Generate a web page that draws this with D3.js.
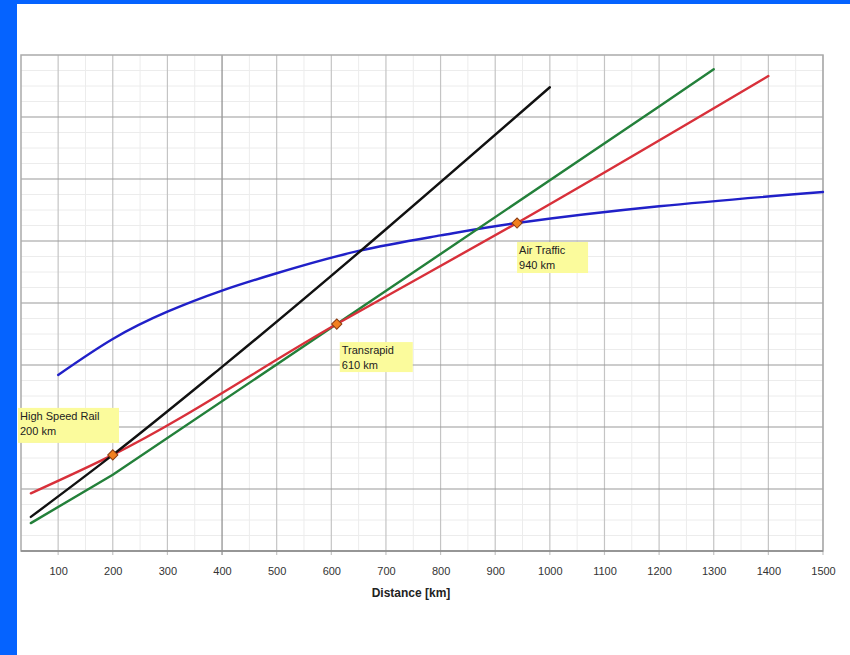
<!DOCTYPE html>
<html>
<head>
<meta charset="utf-8">
<script src="https://cdn.jsdelivr.net/npm/d3@7"></script>
<style>
  html, body { margin: 0; padding: 0; background: #ffffff; }
  svg { display: block; }
</style>
</head>
<body>
<script>
// ---- Data (distance in km, travel time in grid units) ----
const xTicks = [100, 200, 300, 400, 500, 600, 700, 800, 900, 1000, 1100, 1200, 1300, 1400, 1500];
const xTitle = "Distance [km]";

const carDist  = [50, 200, 400, 1000];
const carTime  = [0.55, 1.55, 2.97, 7.48];

const hsrDist  = [50, 200, 610, 940, 1400];
const hsrTime  = [0.93, 1.55, 3.66, 5.29, 7.66];

const transDist = [50, 200, 610, 1200, 1300];
const transTime = [0.45, 1.23, 3.66, 7.17, 7.77];

const airDist  = [100, 200, 300, 400, 500, 650, 800, 940, 1200, 1500];
const airTime  = [2.84, 3.42, 3.86, 4.2, 4.48, 4.84, 5.09, 5.29, 5.56, 5.79];

const markDist  = [200, 610, 940];
const markTime  = [1.55, 3.66, 5.29];
const markLabel1 = ["High Speed Rail", "Transrapid", "Air Traffic"];
const markLabel2 = ["200 km", "610 km", "940 km"];

// ---- Layout ----
const W = 850, H = 655;
const L = 21, R = 823, T = 55, B = 551;

const svg = d3.select("body").append("svg").attr("width", W).attr("height", H);

// blue frame
svg.append("rect").attr("x", 0).attr("y", 0).attr("width", 17).attr("height", H).attr("fill", "#0563ff");
svg.append("rect").attr("x", 0).attr("y", 0).attr("width", W).attr("height", 4).attr("fill", "#0563ff");

const x = d3.scaleLinear().domain([32, 1500]).range([L, R]);
const y = d3.scaleLinear().domain([0, 8]).range([B, T]);

const g = svg.append("g");

// minor vertical grid
g.selectAll("line.vminor").data(d3.range(150, 1500, 100)).enter().append("line")
  .attr("x1", d => x(d)).attr("x2", d => x(d)).attr("y1", T).attr("y2", B)
  .attr("stroke", "#ececec").attr("stroke-width", 1);
// minor horizontal grid
g.selectAll("line.hminor").data(d3.range(0, 8, 0.25).filter(v => v % 1 !== 0)).enter().append("line")
  .attr("x1", L).attr("x2", R).attr("y1", d => y(d)).attr("y2", d => y(d))
  .attr("stroke", "#ececec").attr("stroke-width", 1);
// major vertical grid
g.selectAll("line.vmajor").data(xTicks).enter().append("line")
  .attr("x1", d => x(d)).attr("x2", d => x(d)).attr("y1", T).attr("y2", B + 4)
  .attr("stroke", d => d === 400 ? "#8a8a8a" : "#c4c4c4").attr("stroke-width", 1.2);
// major horizontal grid
g.selectAll("line.hmajor").data(d3.range(1, 8)).enter().append("line")
  .attr("x1", L).attr("x2", R).attr("y1", d => y(d)).attr("y2", d => y(d))
  .attr("stroke", "#9a9a9a").attr("stroke-width", 1.2);
// border
g.append("rect").attr("x", L).attr("y", T).attr("width", R - L).attr("height", B - T)
  .attr("fill", "none").attr("stroke", "#aaaaaa").attr("stroke-width", 1.5);
g.append("line").attr("x1", L).attr("x2", R).attr("y1", B).attr("y2", B)
  .attr("stroke", "#888").attr("stroke-width", 1.5);

// x axis labels
const xAxis = d3.axisBottom(x).tickValues(xTicks).tickSize(0).tickPadding(16).tickFormat(d3.format("d"));
const ax = svg.append("g").attr("transform", `translate(0,${B})`).call(xAxis);
ax.select(".domain").remove();
ax.selectAll("text").attr("font-family", "Liberation Sans, Arial, sans-serif")
  .attr("font-size", 11).attr("fill", "#333");

svg.append("text").attr("x", 411).attr("y", 597).attr("text-anchor", "middle")
  .attr("font-family", "Liberation Sans, Arial, sans-serif").attr("font-size", 12)
  .attr("font-weight", "bold").attr("fill", "#222").text(xTitle);

// lines
function series(dists, times) { return dists.map((d, i) => [d, times[i]]); }
const lineStraight = d3.line().x(d => x(d[0])).y(d => y(d[1]));
const lineCurve = d3.line().x(d => x(d[0])).y(d => y(d[1])).curve(d3.curveMonotoneX);
const lineNatural = d3.line().x(d => x(d[0])).y(d => y(d[1])).curve(d3.curveNatural);

const lines = [
  { data: series(airDist, airTime), color: "#2020c8", gen: lineNatural },
  { data: series(transDist, transTime), color: "#23803a", gen: lineStraight },
  { data: series(hsrDist, hsrTime), color: "#d8303a", gen: lineCurve },
  { data: series(carDist, carTime), color: "#111111", gen: lineCurve }
];
lines.forEach(s => {
  svg.append("path").datum(s.data)
    .attr("d", s.gen)
    .attr("fill", "none").attr("stroke", s.color).attr("stroke-width", 2.4)
    .attr("stroke-linejoin", "round").attr("stroke-linecap", "round");
});

// annotations
const boxes = [
  { dx: -95, dy: -47, w: 101, h: 35 },
  { dx: 3, dy: 18, w: 73, h: 30 },
  { dx: 0, dy: 19, w: 71, h: 31 }
];
markDist.forEach((d, i) => {
  const px = x(d), py = y(markTime[i]);
  const b = boxes[i];
  const bx = i === 0 ? 18 : px + b.dx;
  svg.append("rect").attr("x", bx).attr("y", py + b.dy).attr("width", b.w).attr("height", b.h)
    .attr("fill", "#fbfb9c");
  svg.append("text").attr("x", bx + 2).attr("y", py + b.dy + 12)
    .attr("font-family", "Liberation Sans, Arial, sans-serif").attr("font-size", 11)
    .attr("fill", "#222").text(markLabel1[i]);
  svg.append("text").attr("x", bx + 2).attr("y", py + b.dy + 27)
    .attr("font-family", "Liberation Sans, Arial, sans-serif").attr("font-size", 11)
    .attr("fill", "#222").text(markLabel2[i]);
});

svg.selectAll("path.mark").data(markDist).enter().append("path")
  .attr("transform", (d, i) => `translate(${x(d)},${y(markTime[i])}) rotate(45)`)
  .attr("d", d3.symbol().type(d3.symbolSquare).size(52))
  .attr("fill", "#f2801e").attr("stroke", "#8a3a10").attr("stroke-width", 1);
</script>
</body>
</html>
